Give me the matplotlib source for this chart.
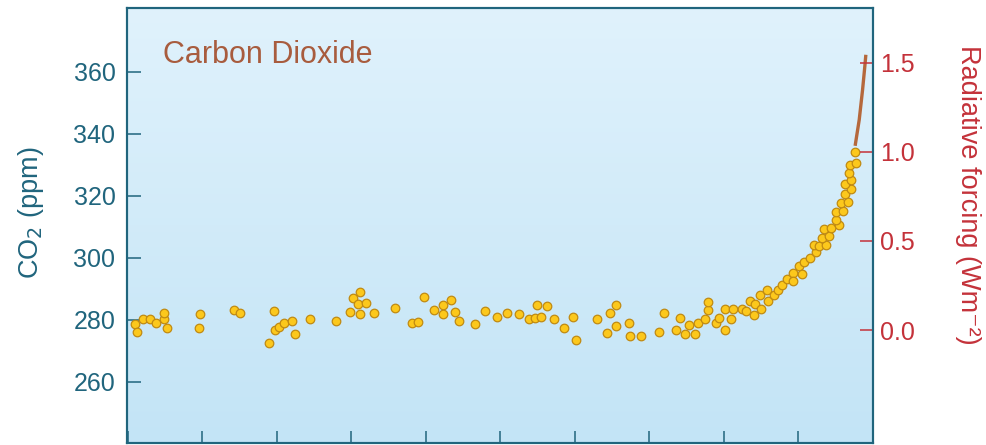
import numpy as np
import matplotlib
matplotlib.use("Agg")
import matplotlib.pyplot as plt
from matplotlib.colors import LinearSegmentedColormap

plt.rcParams['font.family'] = ['Liberation Sans', 'DejaVu Sans']

# ice core CO2 samples (year, ppm)
years = [1010, 1012, 1021, 1030, 1038, 1048, 1049, 1053, 1097, 1096,
         1142, 1151, 1196, 1190, 1197, 1203, 1210, 1220, 1225, 1244,
         1279, 1298, 1302, 1312, 1309, 1320, 1312, 1330, 1358, 1381,
         1389, 1397, 1411, 1423, 1434, 1423, 1439, 1444, 1466, 1480,
         1495, 1509, 1525, 1539, 1546, 1549, 1555, 1563, 1572, 1586,
         1597, 1602, 1630, 1647, 1655, 1643, 1655, 1672, 1674, 1689,
         1713, 1719, 1735, 1741, 1748, 1753, 1761, 1765, 1775, 1778,
         1778, 1789, 1793, 1801, 1809, 1801, 1812, 1824, 1830, 1835,
         1840, 1842, 1850, 1849, 1859, 1858, 1867, 1873, 1878, 1885,
         1893, 1893, 1901, 1905, 1908, 1916, 1923, 1921, 1928, 1937,
         1931, 1941, 1934, 1944, 1954, 1950, 1951, 1960, 1957, 1966,
         1963, 1971, 1962, 1970, 1968, 1969, 1977, 1976]
co2 = [278.5, 276.1, 280.3, 280.3, 278.8, 280.3, 282.2, 277.4, 281.7, 277.4,
       283.1, 282.0, 282.7, 272.6, 276.5, 277.7, 278.8, 279.5, 275.5, 280.3,
       279.5, 282.6, 287.1, 289.0, 284.9, 285.5, 281.7, 282.0, 283.9, 278.8,
       279.2, 287.3, 283.0, 284.7, 286.3, 281.7, 282.3, 279.4, 278.5, 282.7,
       280.8, 282.2, 281.7, 280.3, 280.6, 284.7, 280.9, 284.3, 280.1, 277.4,
       280.9, 273.3, 280.1, 282.2, 284.6, 275.6, 277.9, 279.0, 274.7, 274.7,
       276.0, 282.0, 276.8, 280.6, 275.2, 278.1, 275.3, 278.8, 280.3, 283.1,
       285.6, 278.8, 280.6, 276.8, 280.1, 283.5, 283.5, 283.5, 282.7, 286.0,
       281.4, 284.9, 283.5, 287.8, 286.0, 289.7, 287.8, 289.4, 291.1, 293.2,
       295.1, 292.4, 297.2, 294.6, 298.5, 300.0, 301.8, 304.2, 303.7, 304.0,
       306.4, 306.9, 309.4, 309.6, 310.7, 312.3, 314.7, 315.0, 317.7, 318.0,
       320.4, 322.2, 323.9, 325.2, 327.3, 330.0, 330.6, 334.0]

# atmospheric record (line)
line_years = [1976, 1981.5, 1986, 1989, 1990.4]
line_co2 = [336.1, 344.5, 354.2, 361.7, 365.5]

co2_ticks = [260, 280, 300, 320, 340, 360]
forcing_ticks = [0.0, 0.5, 1.0, 1.5]
year_ticks = list(range(1000, 2001, 100))

teal = '#20657d'
red = '#c4323a'
brown = '#a85c3e'

fig = plt.figure(figsize=(9.86, 4.45), dpi=100)
ax = fig.add_axes([0.1283, 0.0034, 0.7571, 0.9786])

ylo, yhi = 240, 380.6
ax.set_xlim(998.3, 1994.5)
ax.set_ylim(ylo, yhi)

grad = np.linspace(0, 1, 256).reshape(-1, 1)
cmap = LinearSegmentedColormap.from_list('bg', ['#e0f2fc', '#c3e4f6'])
ax.imshow(grad, cmap=cmap, aspect='auto', extent=[0, 1, 0, 1],
          transform=ax.transAxes, zorder=0)

ax.scatter(years, co2, s=38, color='#fcc81c', edgecolors='#c08a12',
           linewidths=0.9, zorder=3)
ax.plot(line_years, line_co2, color='#b5683c', lw=2.4, zorder=4,
        solid_capstyle='butt')

ax.set_yticks(co2_ticks)
ax.set_xticks(year_ticks)
ax.tick_params(axis='y', direction='in', length=10, width=1.1, color=teal,
               labelcolor=teal, labelsize=18, pad=8)
ax.tick_params(axis='x', direction='in', length=8.5, width=1.1, color=teal,
               labelbottom=False)
for s in ax.spines.values():
    s.set_color(teal)
    s.set_linewidth(1.5)

ax.set_ylabel('CO$_2$ (ppm)', color=teal, fontsize=19.5)
ax.yaxis.set_label_coords(-0.108, 0.53)

ax.text(0.049, 0.874, 'Carbon Dioxide', transform=ax.transAxes,
        color=brown, fontsize=22, va='baseline', ha='left')

# forcing axis, linear against the ppm axis
f_zero = 276.6
ppm_per_wm2 = 57.6
ax2 = ax.twinx()
ax2.set_ylim((ylo - f_zero) / ppm_per_wm2, (yhi - f_zero) / ppm_per_wm2)
ax2.set_yticks(forcing_ticks)
ax2.set_yticklabels(['%.1f' % f for f in forcing_ticks])
ax2.tick_params(axis='y', direction='in', length=9.5, width=1.1, color=red,
                labelcolor=red, labelsize=18, pad=5)
for s in ax2.spines.values():
    s.set_color(teal)
    s.set_linewidth(1.5)
ax2.set_ylabel('Radiative forcing (Wm\u207b\u00b2)', color=red, fontsize=19.5,
               rotation=270)
ax2.yaxis.set_label_coords(1.145, 0.57)

fig.savefig('out.png', dpi=100)
